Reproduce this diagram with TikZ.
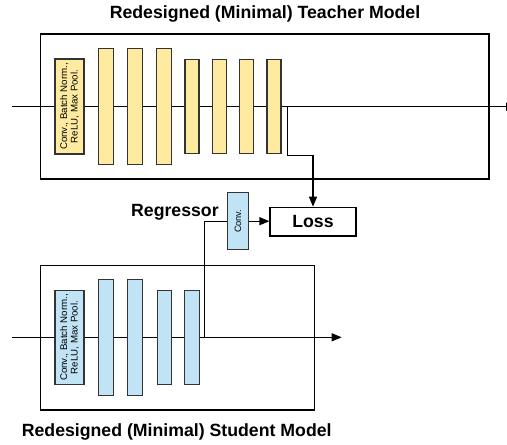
\documentclass[tikz,border=0pt]{standalone}
\usepackage{fontspec}
\setmainfont{Liberation Sans}
\usetikzlibrary{arrows.meta}
\definecolor{tyel}{HTML}{FFEBA0}
\definecolor{sblue}{HTML}{C0E4F5}
\definecolor{edge}{HTML}{333333}
\begin{document}
\begin{tikzpicture}[x=1pt,y=-1pt,
  line width=1.2pt,
  layer/.style={draw=edge,line width=1.2pt,inner sep=0pt},
  ylayer/.style={layer,fill=tyel},
  blayer/.style={layer,fill=sblue},
  frame/.style={draw=black,line width=1.2pt,inner sep=0pt},
  flow/.style={draw=black,line width=1.2pt},
  arr/.style={flow,-{Triangle[length=10pt,width=8pt]}},
  title/.style={font=\fontsize{17.7}{20}\selectfont\bfseries,inner sep=0pt},
  small/.style={font=\fontsize{9.7}{10.4}\selectfont,align=center,rotate=90,inner sep=0pt}
]
\useasboundingbox (0,0) rectangle (507,445);
% titles
\node[title] (ttitle) at (265,14) {Redesigned (Minimal) Teacher Model};
\node[title] (stitle) at (176.7,432.3) {Redesigned (Minimal) Student Model};
% outer boxes
\node[frame,minimum width=448.3pt,minimum height=145pt] (tbox) at (264.85,106.5) {};
\node[frame,minimum width=273.6pt,minimum height=144.3pt] (sbox) at (177.5,337.85) {};
% flow coordinates
\coordinate (tin) at (12,106.7);
\coordinate (tout) at (516,106.7);
\coordinate (tb) at (287.3,106.7);
\coordinate (tbend) at (287.3,155.7);
\coordinate (sin) at (12,337.3);
\coordinate (sout) at (341.7,337.3);
\coordinate (sb) at (204.3,337.3);
% flows behind layers
\draw[arr] (tin) -- (tout);
\draw[arr] (sin) -- (sout);
% teacher layers
\node[ylayer,minimum width=29pt,minimum height=95pt] (t0) at (69.5,106.5) {};
\node[small] (t0text) at (t0) {Conv., Batch Norm.,\\ReLU, Max Pool.};
\node[ylayer,minimum width=15pt,minimum height=115.6pt] (t1) at (105.8,106.5) {};
\node[ylayer,minimum width=15pt,minimum height=115.6pt] (t2) at (134.7,106.5) {};
\node[ylayer,minimum width=15pt,minimum height=115.6pt] (t3) at (163.7,106.5) {};
\node[ylayer,minimum width=14pt,minimum height=94.4pt] (t4) at (192,106.5) {};
\node[ylayer,minimum width=14pt,minimum height=94.4pt] (t5) at (219.5,106.5) {};
\node[ylayer,minimum width=14pt,minimum height=94.4pt] (t6) at (246.7,106.5) {};
\node[ylayer,minimum width=14pt,minimum height=94.4pt] (t7) at (274,106.5) {};
% student layers
\node[blayer,minimum width=29pt,minimum height=94.4pt] (s0) at (69.5,337.5) {};
\node[small] (s0text) at (s0) {Conv., Batch Norm.,\\ReLU, Max Pool.};
\node[blayer,minimum width=15pt,minimum height=116.4pt] (s1) at (105.8,337.5) {};
\node[blayer,minimum width=15pt,minimum height=116.4pt] (s2) at (134.7,337.5) {};
\node[blayer,minimum width=14.4pt,minimum height=94.4pt] (s3) at (164.5,337.5) {};
\node[blayer,minimum width=14.4pt,minimum height=94.4pt] (s4) at (192,337.5) {};
% regressor and loss
\node[blayer,minimum width=20.6pt,minimum height=57pt] (rconv) at (238,221.2) {};
\node[font=\fontsize{9.2}{10}\selectfont,rotate=90,inner sep=0pt] (rconvtext) at (rconv) {Conv.};
\node[title,anchor=east] (rlabel) at (219.3,212.3) {Regressor};
\node[frame,fill=white,minimum width=86pt,minimum height=28.7pt,font=\fontsize{17.7}{20}\selectfont\bfseries] (loss) at (313,221.6) {Loss};
% connectors
\draw[arr] (tb) -- (tbend) -| (loss.north);
\draw[flow] (sb) |- (rconv.west);
\draw[arr] (rconv.east) -- (rconv.east -| loss.west);
\end{tikzpicture}
\end{document}
